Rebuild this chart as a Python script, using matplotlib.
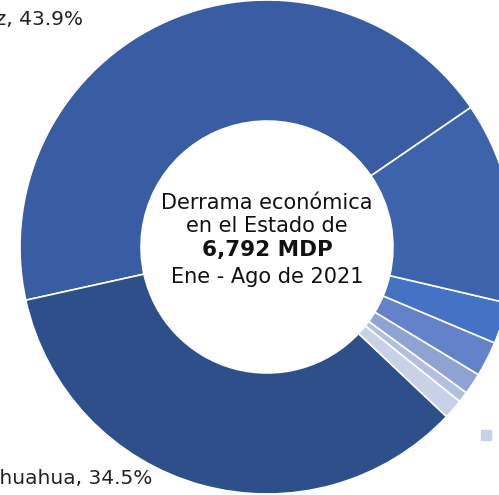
import matplotlib.pyplot as plt

# Derrama económica por municipio, Ene - Ago 2021 (%)
valores = [43.9, 34.5, 1.3, 0.7, 1.4, 2.3, 2.7, 13.2]
colores = ["#3A5CA2", "#2E4F89", "#C9D1E8", "#B3BFE1", "#8FA2D4",
           "#6382C9", "#4472C4", "#3C63AB"]
etiquetas = ["Juárez, 43.9%", "Chihuahua, 34.5%"]

fig = plt.figure(figsize=(4.99, 4.95), dpi=100)
ax = fig.add_axes([0, 0, 1, 1])

cx, cy, r = 267, 248, 247
ax.pie(valores, colors=colores, startangle=34.4, counterclock=True,
       radius=r, center=(cx, cy), frame=True,
       wedgeprops=dict(width=r * 0.49, edgecolor="white", linewidth=1.2))
ax.set_xlim(0, 499)
ax.set_ylim(0, 495)
ax.set_aspect("equal")
ax.axis("off")

ax.text(83, 476, etiquetas[0], ha="right", va="center", fontsize=14.5,
        color="#222222")
ax.text(152, 16, etiquetas[1], ha="right", va="center", fontsize=14.5,
        color="#222222")

# legend marker at the right edge
ax.add_patch(plt.Rectangle((481, 55), 10, 10, color="#C9D1E8"))

ax.text(cx, 292, "Derrama económica", ha="center", va="center",
        fontsize=15, color="#111111")
ax.text(cx, 269, "en el Estado de", ha="center", va="center",
        fontsize=15, color="#111111")
ax.text(cx, 245, "6,792 MDP", ha="center", va="center",
        fontsize=15.5, fontweight="bold", color="#111111")
ax.text(cx, 218, "Ene - Ago de 2021", ha="center", va="center",
        fontsize=15, color="#111111")

fig.savefig("out.png", dpi=100)
